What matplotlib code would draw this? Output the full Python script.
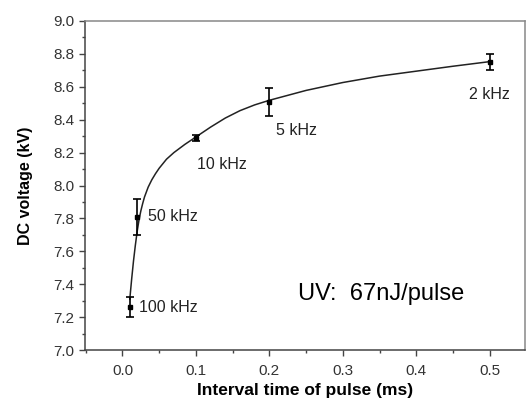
import matplotlib
matplotlib.use("Agg")
import matplotlib.pyplot as plt
from matplotlib.ticker import MultipleLocator

plt.rcParams['font.family'] = ['Liberation Sans', 'DejaVu Sans']

# measured points
interval_ms = [0.01, 0.02, 0.1, 0.2, 0.5]
voltage_kv = [7.26, 7.81, 8.29, 8.51, 8.75]
voltage_err = [0.06, 0.11, 0.02, 0.085, 0.05]
freq_labels = ["100 kHz", "50 kHz", "10 kHz", "5 kHz", "2 kHz"]
label_x = [0.0224, 0.0347, 0.101, 0.2084, 0.4724]
label_y = [7.26, 7.81, 8.125, 8.337, 8.554]

# fitted curve
fit_x = [0.010, 0.0125, 0.015, 0.0175, 0.020, 0.0225, 0.025, 0.0275, 0.030,
         0.035, 0.040, 0.045, 0.050, 0.060, 0.070, 0.085, 0.100, 0.120,
         0.140, 0.160, 0.180, 0.200, 0.250, 0.300, 0.350, 0.400, 0.450, 0.500]
fit_y = [7.31, 7.43, 7.54, 7.635, 7.72, 7.79, 7.845, 7.89, 7.93,
         7.99, 8.035, 8.072, 8.105, 8.16, 8.20, 8.25, 8.295, 8.355,
         8.41, 8.455, 8.49, 8.518, 8.578, 8.626, 8.665, 8.695, 8.725, 8.753]

fig = plt.figure(figsize=(5.26, 4.0), dpi=100)
ax = fig.add_axes([0.1616, 0.125, 0.8364, 0.8225])

ax.plot(fit_x, fit_y, color='#222222', linewidth=1.1)
ax.errorbar(interval_ms, voltage_kv, yerr=voltage_err, fmt='s', color='black',
            markersize=3.5, capsize=3, elinewidth=1.2, capthick=1.2)

for lx, ly, txt in zip(label_x, label_y, freq_labels):
    ax.text(lx, ly, txt, fontsize=11.5, color='#222222', ha='left', va='center')

ax.text(0.2388, 7.339, "UV:  67nJ/pulse", fontsize=17, color='black',
        ha='left', va='center')

ax.set_xlim(-0.051, 0.548)
ax.set_ylim(7.0, 9.0)
ax.xaxis.set_major_locator(MultipleLocator(0.1))
ax.xaxis.set_minor_locator(MultipleLocator(0.05))
ax.yaxis.set_major_locator(MultipleLocator(0.2))
ax.yaxis.set_minor_locator(MultipleLocator(0.1))
ax.tick_params(which='major', direction='out', length=4, width=1,
               color='#444444', labelsize=11, labelcolor='#333333')
ax.tick_params(axis='x', which='major', pad=6)
ax.tick_params(which='minor', direction='out', length=2.5, width=1,
               color='#444444')
ax.tick_params(top=False, right=False, which='both')

for side in ['left', 'bottom']:
    ax.spines[side].set_color('#444444')
    ax.spines[side].set_linewidth(1.1)
for side in ['top', 'right']:
    ax.spines[side].set_color('#888888')
    ax.spines[side].set_linewidth(1.1)

ax.set_xlabel("Interval time of pulse (ms)", fontsize=12.5, fontweight='bold',
              labelpad=4)
ax.set_ylabel("DC voltage (kV)", fontsize=11.5, fontweight='bold', labelpad=15)

fig.savefig("out.png", dpi=100)
